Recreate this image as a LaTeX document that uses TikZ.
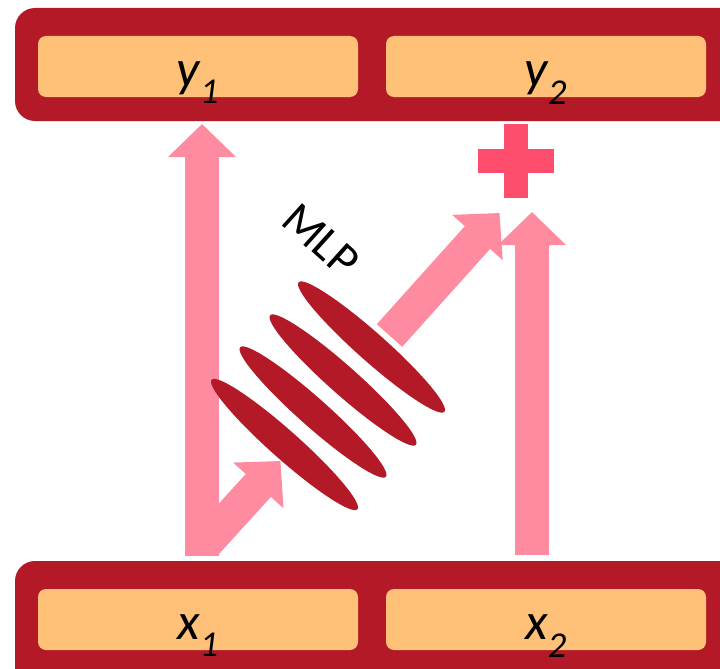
\documentclass[tikz,border=0pt]{standalone}
\usepackage{fontspec}
\setmainfont{Carlito}
\usetikzlibrary{arrows.meta,shapes.geometric}

\definecolor{framered}{HTML}{B31926}
\definecolor{slotorange}{HTML}{FFC177}
\definecolor{arrowpink}{HTML}{FF8BA0}
\definecolor{pluspink}{HTML}{FF4D6D}

\newcommand{\lowsub}[1]{\raisebox{-3pt}{\textsubscript{#1}}}

\tikzset{
    framebox/.style={fill=framered, rounded corners=20pt},
    slotbox/.style={fill=slotorange, rounded corners=8pt, minimum width=320pt, minimum height=61pt, inner sep=0pt},
    varlabel/.style={font=\fontsize{52}{52}\selectfont\itshape, inner sep=0pt, anchor=base},
    fatarrow/.style={draw=arrowpink, line width=34pt, -{Triangle[length=33pt,width=66pt]}},
    mlpdisc/.style={ellipse, fill=framered, minimum width=195pt, minimum height=28.5pt, inner sep=0pt, rotate=-41.6}
}

\begin{document}
\begin{tikzpicture}[x=1pt, y=-1pt]
\useasboundingbox (0,0) rectangle (720,669);
\clip (0,0) rectangle (720,669);

% =============================================
% Frames with their slots
% =============================================
\fill[framebox] (15,8) rectangle (750,121);
\fill[framebox] (15,561) rectangle (750,700);

\node[slotbox] (y1box) at (198,66.5) {};
\node[slotbox] (y2box) at (546,66.5) {};
\node[slotbox] (x1box) at (198,619.5) {};
\node[slotbox] (x2box) at (546,619.5) {};

\node[varlabel] (y1text) at (198,86) {y\lowsub{1}};
\node[varlabel] (y2text) at (546,86) {y\lowsub{2}};
\node[varlabel] (x1text) at (198,639) {x\lowsub{1}};
\node[varlabel] (x2text) at (546,639) {x\lowsub{2}};

% =============================================
% Arrows
% =============================================
\coordinate (x1out) at (202,556);
\coordinate (y1in) at (202,124);
\coordinate (skipout) at (206,543);
\coordinate (skipin) at (280.5,461);
\coordinate (mlpout) at (389.5,335.5);
\coordinate (plusleft) at (499.5,213);
\coordinate (x2out) at (532,555);
\coordinate (plusin) at (532,212);

\draw[fatarrow] (x1out) -- (y1in);
\draw[fatarrow] (skipout) -- (skipin);
\draw[fatarrow] (mlpout) -- (plusleft);
\draw[fatarrow] (x2out) -- (plusin);

% =============================================
% MLP discs
% =============================================
\node[mlpdisc] (disc1) at (284.5,444.5) {};
\node[mlpdisc] (disc2) at (313,412) {};
\node[mlpdisc] (disc3) at (343,380) {};
\node[mlpdisc] (disc4) at (371.5,347) {};

\node[rotate=-42, font=\fontsize{47}{47}\selectfont] (mlptext) at (321,240) {MLP};

% Plus sign
\fill[pluspink] (504,124) rectangle (528,198);
\fill[pluspink] (478,149) rectangle (554,173);

\end{tikzpicture}
\end{document}
